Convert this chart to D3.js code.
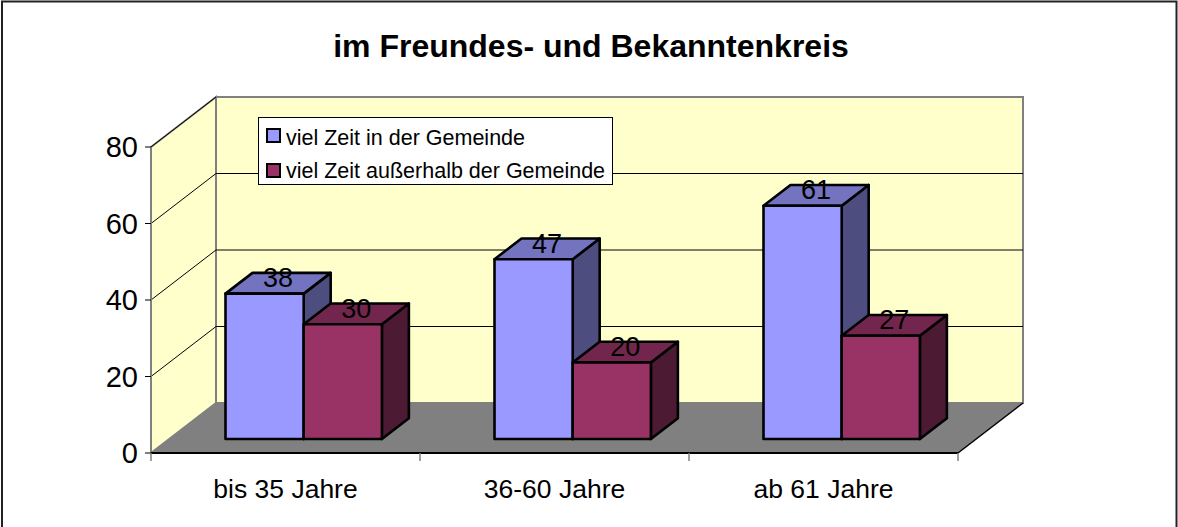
<!DOCTYPE html>
<html>
<head>
<meta charset="utf-8">
<script src="https://cdn.jsdelivr.net/npm/d3@7/dist/d3.min.js"></script>
<style>
  html, body { margin: 0; padding: 0; background: #fff; }
  svg { display: block; font-family: Arial, "Liberation Sans", sans-serif; }
</style>
</head>
<body>
<svg id="chart" width="1178" height="527"></svg>
<script>
// Data
const categories = ['bis 35 Jahre', '36-60 Jahre', 'ab 61 Jahre'];
const seriesNames = ['viel Zeit in der Gemeinde', 'viel Zeit außerhalb der Gemeinde'];
const inGemeinde = [38, 47, 61];
const ausserhalb = [30, 20, 27];
const yTicks = [0, 20, 40, 60, 80];

const drawChart = () => {
    const svg = d3.select('#chart');

    // Colors (front, top, side)
    const seriesColors = [
        {front: '#9999FF', top: '#7373C0', side: '#4D4D80'},
        {front: '#993366', top: '#73264D', side: '#4D1A33'}
    ];
    const wallColor = '#FFFFCC';
    const floorColor = '#808080';

    // Plot geometry (front plane + depth offset)
    const left = 151, right = 958;
    const depthX = 65, depthY = -50;

    const y = d3.scaleLinear().domain([0, 80]).range([453, 147]);
    const x0 = d3.scaleBand().domain(categories).range([left, right]).padding(0);
    const x1 = d3.scaleBand().domain(seriesNames).range([0, x0.bandwidth()])
        .paddingInner(0).paddingOuter(0.72);

    // project a point (x on front plane, value, depth 0..1) to screen
    const P = (x, v, z) => [x + depthX * z, y(v) + depthY * z];
    const poly = pts => pts.map(p => p.join(',')).join(' ');

    // outer border
    svg.append('rect')
        .attr('x', 2).attr('y', 1.5).attr('width', 1174.5).attr('height', 600)
        .attr('fill', 'none').attr('stroke', '#222').attr('stroke-width', 2);

    // title
    svg.append('text')
        .attr('x', 591).attr('y', 57)
        .attr('text-anchor', 'middle')
        .attr('font-weight', 'bold').attr('font-size', 32)
        .text('im Freundes- und Bekanntenkreis');

    // back wall
    svg.append('polygon')
        .attr('points', poly([P(left, 80, 1), P(right, 80, 1), P(right, 0, 1), P(left, 0, 1)]))
        .attr('fill', wallColor).attr('stroke', '#808080').attr('stroke-width', 2);

    // side wall
    svg.append('polygon')
        .attr('points', poly([P(left, 80, 0), P(left, 80, 1), P(left, 0, 1), P(left, 0, 0)]))
        .attr('fill', wallColor).attr('stroke', '#808080').attr('stroke-width', 2);

    // floor
    svg.append('polygon')
        .attr('points', poly([P(left, 0, 0), P(right, 0, 0), P(right, 0, 1), P(left, 0, 1)]))
        .attr('fill', floorColor).attr('stroke', 'none');

    // gridlines on back and side wall
    yTicks.filter(t => t > 0).forEach(t => {
        if (t < 80) {
            const a = P(left, t, 1), b = P(right, t, 1);
            svg.append('line')
                .attr('x1', a[0]).attr('y1', a[1]).attr('x2', b[0]).attr('y2', b[1])
                .attr('stroke', '#000').attr('stroke-width', 1);
        }
        const c = P(left, t, 0), d = P(left, t, 1);
        svg.append('line')
            .attr('x1', c[0]).attr('y1', c[1]).attr('x2', d[0]).attr('y2', d[1])
            .attr('stroke', '#000').attr('stroke-width', 1);
    });

    // floor edges
    const fr = P(right, 0, 0), br = P(right, 0, 1);
    svg.append('line')
        .attr('x1', fr[0]).attr('y1', fr[1]).attr('x2', br[0]).attr('y2', br[1])
        .attr('stroke', '#000').attr('stroke-width', 1.5);

    // y axis
    svg.append('line')
        .attr('x1', left).attr('y1', y(80)).attr('x2', left).attr('y2', y(0))
        .attr('stroke', '#808080').attr('stroke-width', 2);
    yTicks.forEach(t => {
        svg.append('line')
            .attr('x1', left - 6).attr('y1', y(t)).attr('x2', left).attr('y2', y(t))
            .attr('stroke', '#000').attr('stroke-width', 1);
        svg.append('text')
            .attr('x', left - 13).attr('y', y(t) + 10)
            .attr('text-anchor', 'end').attr('font-size', 29)
            .text(t);
    });

    // x axis
    svg.append('line')
        .attr('x1', left).attr('y1', y(0)).attr('x2', right).attr('y2', y(0))
        .attr('stroke', '#000').attr('stroke-width', 2);
    const xTickPos = categories.map(c => x0(c)).concat([right]);
    xTickPos.forEach(px => {
        svg.append('line')
            .attr('x1', px).attr('y1', y(0)).attr('x2', px).attr('y2', y(0) + 8)
            .attr('stroke', '#808080').attr('stroke-width', 1.5);
    });
    categories.forEach(c => {
        svg.append('text')
            .attr('x', x0(c) + x0.bandwidth() / 2).attr('y', 498)
            .attr('text-anchor', 'middle').attr('font-size', 26.5)
            .text(c);
    });

    // bars
    const z0 = 0.28, z1 = 0.695;
    const seriesValues = [inGemeinde, ausserhalb];
    categories.forEach((c, ci) => {
        seriesNames.forEach((s, si) => {
            const v = seriesValues[si][ci];
            const xa = x0(c) + x1(s);
            const xb = xa + x1.bandwidth();
            const col = seriesColors[si];
            const g = svg.append('g')
                .attr('stroke', '#000').attr('stroke-width', 2.6).attr('stroke-linejoin', 'round');
            // side
            g.append('polygon')
                .attr('points', poly([P(xb, 0, z0), P(xb, v, z0), P(xb, v, z1), P(xb, 0, z1)]))
                .attr('fill', col.side);
            // top
            g.append('polygon')
                .attr('points', poly([P(xa, v, z0), P(xb, v, z0), P(xb, v, z1), P(xa, v, z1)]))
                .attr('fill', col.top);
            // front
            g.append('polygon')
                .attr('points', poly([P(xa, 0, z0), P(xb, 0, z0), P(xb, v, z0), P(xa, v, z0)]))
                .attr('fill', col.front);
        });
        // data labels
        seriesNames.forEach((s, si) => {
            const v = seriesValues[si][ci];
            const xm = x0(c) + x1(s) + x1.bandwidth() / 2;
            const p = P(xm, v, (z0 + z1) / 2);
            svg.append('text')
                .attr('x', p[0]).attr('y', p[1] + 4)
                .attr('text-anchor', 'middle').attr('font-size', 27)
                .text(v);
        });
    });

    // legend
    const legend = svg.append('g');
    legend.append('rect')
        .attr('x', 258.5).attr('y', 117.5).attr('width', 354).attr('height', 67)
        .attr('fill', '#fff').attr('stroke', '#000').attr('stroke-width', 1);
    seriesNames.forEach((s, i) => {
        legend.append('rect')
            .attr('x', 267).attr('y', 129 + i * 35).attr('width', 13).attr('height', 13)
            .attr('fill', seriesColors[i].front).attr('stroke', '#000').attr('stroke-width', 2);
        legend.append('text')
            .attr('x', 286).attr('y', 145 + i * 33)
            .attr('font-size', 21.5)
            .text(s);
    });
};
drawChart();
</script>
</body>
</html>
